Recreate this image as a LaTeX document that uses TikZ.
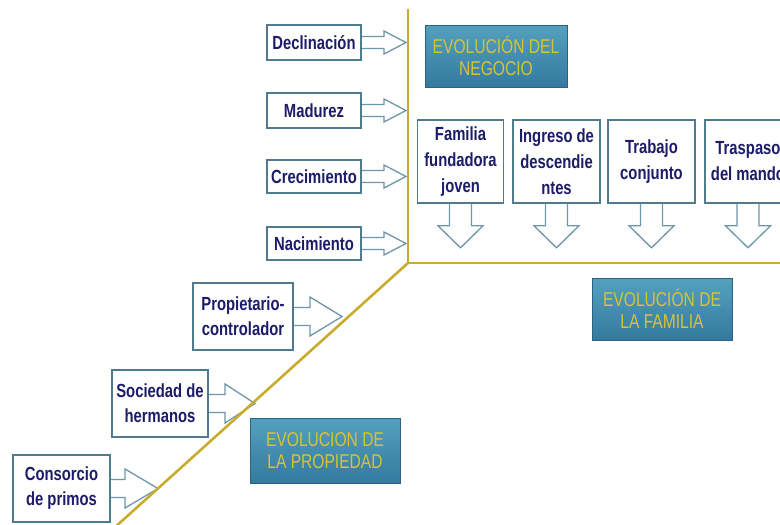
\documentclass[tikz,border=0pt]{standalone}
\usepackage{fontspec}
\setmainfont{Liberation Sans}[FakeStretch=0.78]
\usetikzlibrary{calc,backgrounds}

\definecolor{axisgold}{RGB}{200,172,48}
\definecolor{frameblue}{RGB}{80,122,142}
\definecolor{arrowblue}{RGB}{110,150,170}
\definecolor{labelnavy}{RGB}{28,28,105}
\definecolor{titlegold}{RGB}{214,196,50}
\definecolor{titletop}{RGB}{85,160,190}
\definecolor{titlebot}{RGB}{52,122,160}

\tikzset{
  stagebox/.style={draw=frameblue, line width=1.6pt, fill=white, text=labelnavy,
    font=\fontsize{19}{25}\selectfont\bfseries, align=center, inner sep=0pt},
  famtext/.style={font=\fontsize{19}{26}\selectfont\bfseries},
  titlebox/.style={draw=titlebot!80!black, line width=0.8pt, top color=titletop,
    bottom color=titlebot, text=titlegold, font=\fontsize{20}{22}\selectfont,
    align=center, inner sep=0pt},
  blockarrow/.style={draw=arrowblue, line width=1.3pt, fill=white, line join=miter},
  axisline/.style={draw=axisgold, line width=2.6pt},
}

% block arrow pointing right: box, tip, shaft half height, head half height, head length
\newcommand\rightblock[5]{%
  \filldraw[blockarrow] ($(#1.east)+(0,-#3)$) -- ($(#2)+(-#5,-#3)$) -- ($(#2)+(-#5,-#4)$)
    -- (#2) -- ($(#2)+(-#5,#4)$) -- ($(#2)+(-#5,#3)$) -- ($(#1.east)+(0,#3)$);}
% block arrow pointing down from the bottom of a box
\newcommand\downblock[1]{%
  \filldraw[blockarrow] ($(#1.south)+(-11,0)$) -- ++(0,22) -- ++(-11.5,0) -- ++(22.5,22)
    -- ++(22.5,-22) -- ++(-11.5,0) -- ++(0,-22);}

\begin{document}
\begin{tikzpicture}[x=1pt,y=-1pt]
\useasboundingbox (0,0) rectangle (780,525);
\clip (0,0) rectangle (780,525);

% axes
\coordinate (origin) at (408,263);
\coordinate (top) at (408,9);
\coordinate (right) at (790,263);
\coordinate (low) at (113,529);
\draw[axisline] (top) -- (origin) -- (right);
\draw[axisline] (origin) -- (low);

% business stages
\node[stagebox, minimum width=94, minimum height=35] (dec) at (314,42.5) {Declinación};
\node[stagebox, minimum width=94, minimum height=35] (mad) at (314,110.5) {Madurez};
\node[stagebox, minimum width=94, minimum height=33] (cre) at (314,176.5) {Crecimiento};
\node[stagebox, minimum width=94, minimum height=33] (nac) at (314,243.5) {Nacimiento};
\coordinate (tdec) at (406,42.5);
\coordinate (tmad) at (406,110.5);
\coordinate (tcre) at (406,176.5);
\coordinate (tnac) at (406,243.5);

% family stages
\node[stagebox, famtext, minimum width=86, minimum height=83] (fam1) at (460.5,161.5) {Familia\\fundadora\\joven};
\node[stagebox, famtext, minimum width=87, minimum height=83] (fam2) at (556.5,161.5) {Ingreso de\\descendie\\ntes};
\node[stagebox, famtext, minimum width=87, minimum height=83] (fam3) at (651.5,161.5) {Trabajo\\conjunto};
\node[stagebox, famtext, minimum width=86, minimum height=83] (fam4) at (748,161.5) {Traspaso\\del mando};

% ownership stages
\node[stagebox, minimum width=100, minimum height=67] (own1) at (243,316.5) {Propietario-\\controlador};
\node[stagebox, minimum width=96, minimum height=67] (own2) at (160,403.5) {Sociedad de\\hermanos};
\node[stagebox, minimum width=97, minimum height=67] (own3) at (61.5,488.5) {Consorcio\\de primos};
\coordinate (town1) at (342,316.5);
\coordinate (town2) at (255,403.5);
\coordinate (town3) at (158,488.5);

% titles
\node[titlebox, minimum width=142, minimum height=62] (tneg) at (496,56) {EVOLUCIÓN DEL\\NEGOCIO};
\node[titlebox, minimum width=140, minimum height=62] (tfam) at (662,309) {EVOLUCIÓN DE\\LA FAMILIA};
\node[titlebox, minimum width=150, minimum height=65] (tpro) at (325,450.5) {EVOLUCION DE\\LA PROPIEDAD};

% block arrows
\begin{scope}[on background layer]
  \rightblock{dec}{tdec}{6}{11.5}{22}
  \rightblock{mad}{tmad}{6}{11.5}{22}
  \rightblock{cre}{tcre}{6}{11.5}{22}
  \rightblock{nac}{tnac}{6}{11.5}{22}
  \downblock{fam1}
  \downblock{fam2}
  \downblock{fam3}
  \downblock{fam4}
  \rightblock{own1}{town1}{9}{19.5}{32}
  \rightblock{own2}{town2}{9}{19.5}{30}
  \rightblock{own3}{town3}{9}{19.5}{33}
\end{scope}
\end{tikzpicture}
\end{document}
